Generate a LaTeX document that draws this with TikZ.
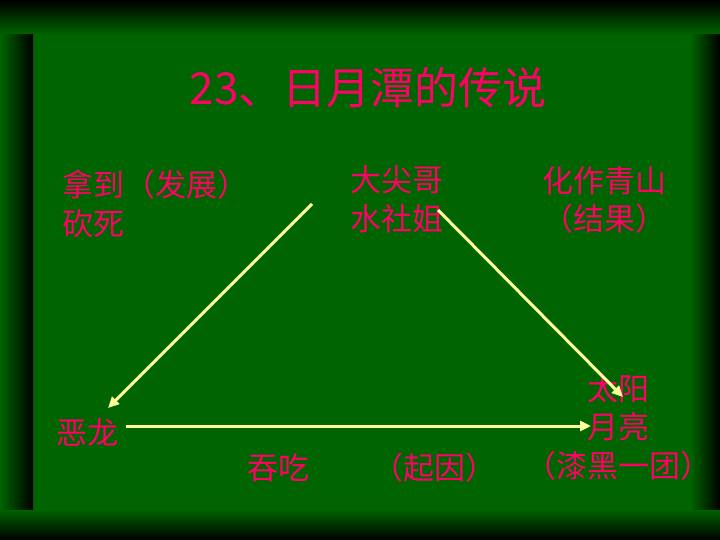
\documentclass[tikz,border=0pt]{standalone}
\usepackage{fontspec}
\newfontfamily\cjk{Noto Sans CJK SC}
\usepackage{tikz}
\usetikzlibrary{arrows.meta,positioning}

\definecolor{board}{RGB}{0,100,0}
\definecolor{rosa}{RGB}{255,0,102}
\definecolor{chalk}{RGB}{255,255,153}

\tikzset{
  txt/.style={text=rosa, inner sep=0pt, align=center, font=\cjk\fontsize{31}{38.5}\selectfont},
  arrowline/.style={draw=chalk, line width=3pt, -{Triangle[length=11pt,width=10pt]}}
}

\begin{document}
\begin{tikzpicture}[x=1pt,y=-1pt]

%Board
\useasboundingbox (0,0) rectangle (720,540);
\fill[board] (0,0) rectangle (720,540);
\shade[top color=black, bottom color=board] (0,0) rectangle (720,35);
\shade[top color=board, bottom color=black] (0,509) rectangle (720,540);
\shade[left color=board, right color=black] (0,35) rectangle (33,509);
\shade[left color=board, right color=black] (690,35) rectangle (720,509);

%Title
\node[txt, font=\cjk\fontsize{44}{50}\selectfont] (title) at (368,88) {23、日月潭的传说};

%Texts
\node[txt, align=left, anchor=west] (fazhan) at (62,204) {拿到（发展）\\砍死};
\node[txt] (jiemei) at (397,199) {大尖哥\\水社姐};
\node[txt] (jieguo) at (604,200) {化作青山\\（结果）};
\node[txt] (riyue) at (618,427) {太阳\\月亮\\（漆黑一团）};
\node[txt] (elong) at (87,432) {恶龙};
\node[txt] (tunchi) at (278,468) {吞吃};
\node[txt] (qiyin) at (434,468) {（起因）};

%Arrows
\coordinate (jm-l) at (312,204);
\coordinate (jm-r) at (438,210);
\coordinate (el-t) at (108,408);
\coordinate (el-r) at (126,426);
\coordinate (ry-t) at (623,397);
\coordinate (ry-l) at (591,426);
\draw[arrowline] (jm-l) -- (el-t);
\draw[arrowline] (jm-r) -- (ry-t);
\draw[arrowline] (el-r) -- (ry-l);

\end{tikzpicture}
\end{document}
